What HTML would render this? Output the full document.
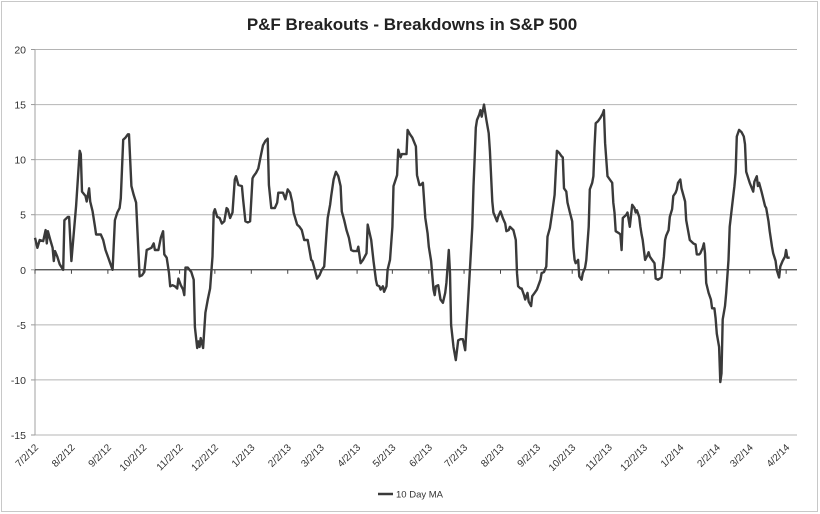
<!DOCTYPE html>
<html><head><meta charset="utf-8"><style>
html,body{margin:0;padding:0;background:#fff;}
svg{display:block;font-family:"Liberation Sans",sans-serif;}
</style></head><body>
<svg id="chart" width="820" height="514" viewBox="0 0 820 514" xmlns="http://www.w3.org/2000/svg">
<rect x="1.5" y="1.5" width="816" height="510" fill="#fff" stroke="#c8c8c8" stroke-width="1"/>
<text x="412" y="30" text-anchor="middle" font-size="17" font-weight="bold" fill="#222">P&amp;F Breakouts - Breakdowns in S&amp;P 500</text>
<g id="grid"></g>
<g id="yaxis"></g>
<g id="xaxis"></g>
<g id="series"></g>
<g>
<line x1="378" y1="494" x2="393" y2="494" stroke="#3a3a3a" stroke-width="2.5"/>
<text x="396" y="497.5" font-size="9.5" fill="#333">10 Day MA</text>
</g>
</svg>
<script>
// days since 7/2/2012
var days = [0,2,4,7,9,10,11,13,15,16,17,19,21,24,25,28,29,31,35,38,39,40,43,44,46,47,49,51,52,56,58,60,62,64,66,68,70,72,73,75,77,79,80,82,84,86,89,91,93,95,97,99,101,102,105,107,109,110,112,114,115,117,119,121,122,124,126,127,128,130,133,135,136,138,139,140,141,143,145,147,149,151,152,153,155,157,159,161,163,164,166,
168,170,171,173,176,177,179,181,183,185,186,188,190,192,194,196,198,199,201,204,206,207,211,213,215,217,219,220,223,225,227,229,232,233,235,236,238,240,242,244,246,248,249,251,252,254,256,258,260,261,263,265,267,269,271,274,275,277,279,282,283,286,288,290,291,293,294,296,297,299,300,302,304,305,308,309,311,312,316,317,319,321,324,325,327,
328,330,332,334,335,337,339,340,341,343,345,347,349,350,352,353,354,356,358,360,362,364,366,368,370,372,373,374,375,376,378,379,380,382,384,386,387,389,390,393,394,396,397,398,400,401,403,404,407,409,410,411,413,414,416,417,419,420,422,423,425,427,428,430,431,433,435,436,438,440,442,443,444,446,448,449,450,452,453,455,457,458,459,460,462,463,465,466,468,469,471,472,474,475,476,477,479,481,483,484,485,487,489,
491,492,493,494,497,498,499,500,503,504,506,508,510,511,512,514,515,516,517,519,521,522,523,525,527,528,530,533,535,536,537,539,540,542,543,545,546,547,549,550,553,554,555,557,560,562,563,565,566,568,569,570,571,573,575,576,578,579,580,582,583,584,585,587,588,590,591,593,595,596,597,599,601,603,604,605,608,611,612,614,615,616,618,619,621,622,624,625,627,628,630,631,633,634,636,638,639,640,642];
var values = [2.9,2.0,2.7,2.6,3.6,2.4,3.5,2.7,2.0,0.8,1.7,1.2,0.5,0,4.5,4.8,4.8,0.8,5.8,10.8,10.5,7.1,6.7,6.2,7.4,6.2,5.3,3.9,3.2,3.2,2.7,1.8,1.2,0.6,0,4.5,5.2,5.6,6.5,11.8,12.0,12.3,12.3,7.6,6.8,6.1,-0.6,-0.5,-0.2,1.8,1.9,2.0,2.4,1.8,1.8,2.9,3.5,1.4,1.1,-0.3,-1.5,-1.4,-1.5,-1.7,-0.8,-1.4,-1.8,-2.3,0.2,0.2,-0.2,-0.9,-5.2,-7.1,-6.5,-7.0,-6.2,-7.1,-3.9,-2.7,-1.7,1.2,5.2,5.5,4.8,4.7,4.2,4.4,5.6,5.5,4.7,
5.2,8.2,8.5,7.7,7.6,6.4,4.4,4.3,4.4,8.3,8.5,8.8,9.2,10.3,11.3,11.7,11.9,7.7,5.6,5.6,6.1,7.0,7.0,6.4,7.3,7.0,6.1,5.2,4.1,3.9,3.6,2.7,2.7,2.1,0.9,0.8,0,-0.8,-0.5,0,0.3,3.3,4.7,5.9,6.7,8.2,8.9,8.5,7.6,5.3,4.5,3.6,2.9,1.8,1.7,1.7,2.1,0.6,0.9,1.5,4.1,2.7,0.8,-0.9,-1.4,-1.5,-1.8,-1.5,-2.0,-1.5,0,0.9,3.9,7.6,8.6,10.9,10.2,10.5,10.5,12.7,12.3,12.0,11.2,8.6,7.7,
7.7,7.9,4.7,3.3,2.1,0.8,-1.8,-2.3,-1.5,-1.4,-2.7,-3.0,-2.1,-1.2,1.8,-0.3,-5.0,-7.0,-8.2,-6.4,-6.3,-6.3,-7.3,-3.6,0,3.9,7.6,10.0,12.9,13.6,14.1,14.5,13.9,15.0,13.6,12.4,10.8,6.2,5.2,4.4,4.8,5.3,5.0,4.7,4.2,3.5,3.6,3.9,3.6,2.7,-0.3,-1.5,-1.7,-1.7,-2.3,-2.7,-2.1,-2.9,-3.3,-2.4,-2.1,-1.8,-1.5,-0.9,-0.3,-0.2,0.3,3.0,3.8,5.2,6.8,8.8,10.8,10.6,10.3,10.2,7.4,7.1,6.1,5.2,4.4,2.0,0.9,0.6,0.9,-0.6,-0.9,-0.3,0.2,0.9,3.9,7.3,7.9,8.5,11.1,13.3,13.5,13.8,14.2,14.5,11.5,8.5,8.2,
7.9,6.1,5.2,3.5,3.3,3.2,1.8,4.7,5.0,5.2,3.9,5.9,5.6,5.2,5.4,4.8,3.9,3.2,2.7,0.9,1.3,1.6,1.2,0.9,0.6,-0.8,-0.9,-0.7,1.2,2.7,3.1,3.6,4.8,5.5,6.7,7.0,7.3,7.9,8.2,7.4,6.2,4.5,3.9,2.7,2.4,2.3,1.4,1.4,1.5,2.0,2.4,1.5,-1.2,-2.1,-2.7,-3.5,-3.5,-4.4,-5.8,-7.0,-10.2,-9.4,-4.5,-3.3,-2.1,0.9,3.9,5.8,7.6,8.8,12.1,12.7,12.5,12.1,11.4,8.9,7.9,7.1,8.0,8.5,7.6,7.9,7.1,6.7,5.8,5.6,4.4,3.5,2.1,1.5,0.8,0,-0.7,0.3,0.8,1.2,1.8,1.1,1.1];
var yTicks = [20,15,10,5,0,-5,-10,-15];
var monthLabels = ["7/2/12","8/2/12","9/2/12","10/2/12","11/2/12","12/2/12","1/2/13","2/2/13","3/2/13","4/2/13","5/2/13","6/2/13","7/2/13","8/2/13","9/2/13","10/2/13","11/2/13","12/2/13","1/2/14","2/2/14","3/2/14","4/2/14"];

var NS="http://www.w3.org/2000/svg";
var X0=35, X1=797, PXD=1.1755, YTOP=49.5, YBOT=435;
function xs(d){return X0+d*PXD;}
function ys(v){return YBOT-(v+15)*(YBOT-YTOP)/35;}
function mk(tag,attrs,parent){var e=document.createElementNS(NS,tag);for(var k in attrs)e.setAttribute(k,attrs[k]);parent.appendChild(e);return e;}
var grid=document.getElementById('grid'), ya=document.getElementById('yaxis'), xa=document.getElementById('xaxis'), se=document.getElementById('series');
yTicks.forEach(function(t){
  var y=ys(t);
  if(t!==0){var g=mk('line',{x1:X0,x2:X1,y1:y,y2:y,stroke:'#b4b4b4','stroke-width':1},grid);
  
  }
  var tk=mk('line',{x1:X0-4,x2:X0,y1:y,y2:y,stroke:'#999','stroke-width':1},ya);
  
  
  var tx=mk('text',{x:26,y:y+4,'text-anchor':'end','font-size':'10.5',fill:'#333'},ya);
  tx.textContent=String(t);
  
  
});
var al=mk('line',{x1:X0,x2:X0,y1:YTOP,y2:YBOT,stroke:'#a0a0a0','stroke-width':1},ya);


var zl=mk('line',{x1:X0,x2:X1,y1:ys(0),y2:ys(0),stroke:'#444','stroke-width':1.2},xa);


var base=Date.UTC(2012,6,2);
monthLabels.forEach(function(lbl){
  var p=lbl.split('/'); var dt=Date.UTC(2000+ +p[2], +p[0]-1, +p[1]);
  var d=Math.round((dt-base)/86400000); var x=xs(d);
  var tk=mk('line',{x1:x,x2:x,y1:ys(0),y2:ys(0)+4,stroke:'#444','stroke-width':1},xa);
  
  
  var tx=mk('text',{x:x+4,y:448,'text-anchor':'end','font-size':'10',fill:'#333',transform:'rotate(-45 '+(x+4)+' 448)'},xa);
  tx.textContent=lbl;
  
  
});
var pts=days.map(function(d,i){return xs(d).toFixed(1)+','+ys(values[i]).toFixed(1);}).join(' ');
var pl=mk('polyline',{points:pts,fill:'none',stroke:'#3a3a3a','stroke-width':2.4,'stroke-linejoin':'round'},se);


</script>
</body></html>
